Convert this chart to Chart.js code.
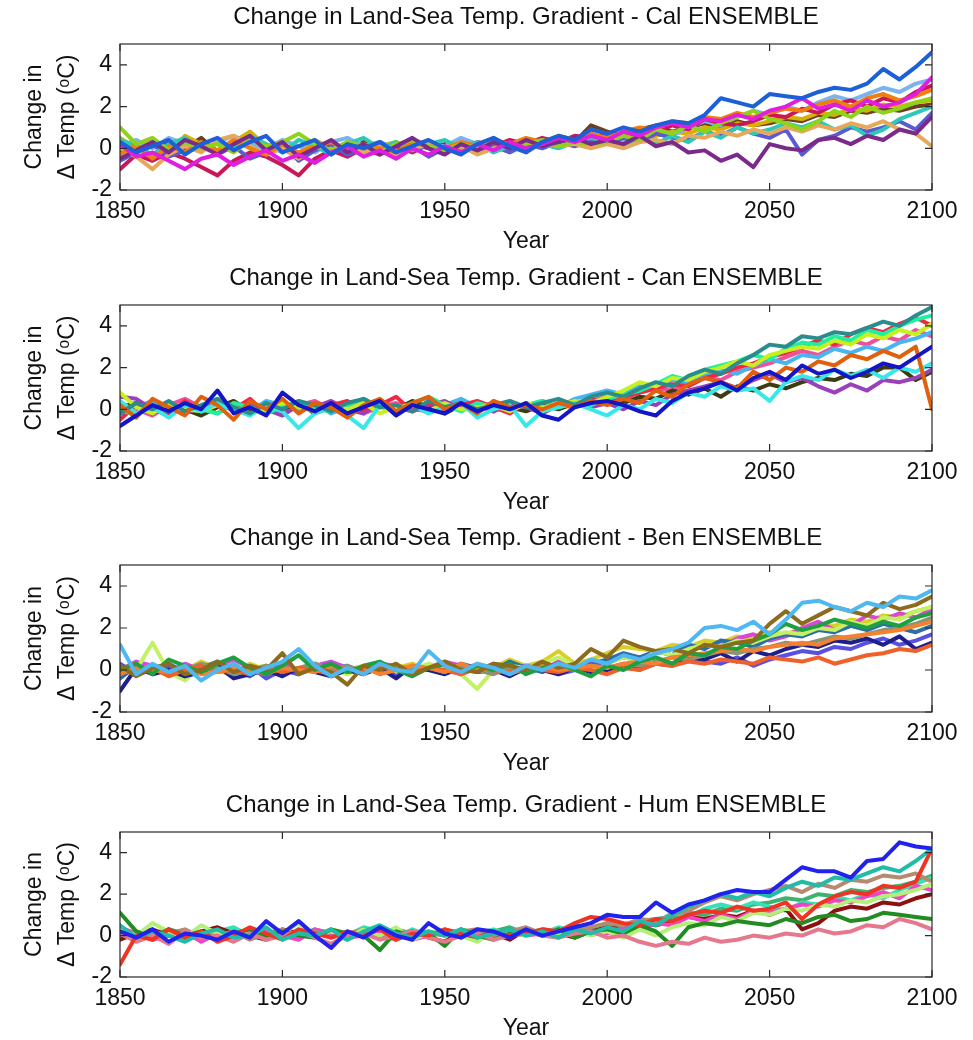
<!DOCTYPE html>
<html><head><meta charset="utf-8">
<script src="https://cdn.jsdelivr.net/npm/chart.js@4/dist/chart.umd.min.js"></script>
<style>
html,body{margin:0;padding:0;background:#fff;width:973px;height:1040px;overflow:hidden}
.p{position:absolute;left:0;width:973px}
</style></head><body>
<div class="p" style="top:0px"><canvas id="c0" width="973" height="261"></canvas></div>
<div class="p" style="top:261px"><canvas id="c1" width="973" height="261"></canvas></div>
<div class="p" style="top:521px"><canvas id="c2" width="973" height="262"></canvas></div>
<div class="p" style="top:788px"><canvas id="c3" width="973" height="260"></canvas></div>
<script>
// ---------- axes / labels ----------
const years = [1850,1855,1860,1865,1870,1875,1880,1885,1890,1895,
  1900,1905,1910,1915,1920,1925,1930,1935,1940,1945,
  1950,1955,1960,1965,1970,1975,1980,1985,1990,1995,
  2000,2005,2010,2015,2020,2025,2030,2035,2040,2045,
  2050,2055,2060,2065,2070,2075,2080,2085,2090,2095,2100];
const xTickValues = [1850,1900,1950,2000,2050,2100];
const yTickValues = [-2,0,2,4];
const panelTitles = [
  'Change in Land-Sea Temp. Gradient - Cal ENSEMBLE',
  'Change in Land-Sea Temp. Gradient - Can ENSEMBLE',
  'Change in Land-Sea Temp. Gradient - Ben ENSEMBLE',
  'Change in Land-Sea Temp. Gradient - Hum ENSEMBLE'];
const xTitle = 'Year';
const yTitle = ['Change in', '\u0394 Temp (\u1d52C)'];

// ---------- Cal ensemble ----------
const calBlue = [0.3,-0.2,0.1,0.4,-0.3,0.2,0.5,-0.1,0.3,0.6, -0.2,0.1,0.4,-0.3,0.2,0.0,0.3,-0.2,0.1,0.4, 0.0,-0.3,0.2,0.5,0.1,-0.2,0.3,0.6,0.4,0.9, 0.7,1.0,0.8,1.1,1.3,1.2,1.6,2.4,2.2,2.0, 2.6,2.5,2.4,2.7,2.9,2.8,3.1,3.8,3.3,3.9, 4.6];
const calMagenta = [0.2,-0.4,-0.2,-0.6,-1.0,-0.5,-0.3,-0.8,-0.4,-0.1, -0.6,-0.3,-0.7,-0.2,0.1,-0.4,-0.1,-0.5,0.0,-0.3, 0.1,-0.2,0.2,-0.1,0.3,0.0,0.2,0.5,0.3,0.6, 0.4,0.8,0.6,1.0,1.2,1.0,1.4,1.3,1.6,1.4, 1.8,2.0,2.4,1.9,2.1,1.8,2.3,2.0,2.2,2.6, 3.4];
const calPurple = [-0.5,-0.1,0.3,-0.2,0.4,0.1,-0.3,0.2,0.6,-0.1, 0.3,-0.4,0.0,0.4,-0.2,0.2,-0.3,0.1,0.5,0.0, -0.3,0.2,-0.1,0.3,0.0,0.4,0.1,0.3,0.5,0.2, 0.4,0.2,0.6,0.1,0.3,-0.2,-0.1,-0.6,-0.3,-0.9, 0.2,0.0,-0.1,0.4,0.5,0.2,0.6,0.4,0.9,0.7, 1.5];
const calLime = [1.0,0.2,0.5,-0.1,0.3,0.0,0.2,-0.2,0.4,0.1, 0.3,0.7,0.2,-0.1,0.3,0.1,-0.2,0.2,0.4,0.1, -0.1,0.2,0.0,0.3,0.1,0.2,0.4,0.1,0.3,0.2, 0.3,0.6,0.4,0.9,0.7,1.1,0.8,1.2,1.5,1.8, 1.4,1.2,0.9,1.3,1.8,1.5,2.0,1.7,1.9,2.2, 2.4];
const calOrange = [-0.3,0.2,-0.5,0.1,-0.2,0.3,-0.1,0.4,0.0,-0.3, 0.2,-0.2,0.1,0.3,-0.1,0.2,0.0,-0.2,0.3,0.1, 0.0,0.3,0.1,0.4,0.2,0.5,0.3,0.6,0.4,0.7, 0.5,0.8,1.0,0.9,1.3,1.2,1.5,1.4,1.7,1.5, 1.7,1.9,1.8,2.1,2.3,2.0,2.4,2.6,2.3,2.5, 2.8];
const calTan = [0.0,-0.4,-1.0,-0.3,0.1,-0.2,0.4,0.6,0.1,-0.3, 0.0,-0.5,0.2,-0.1,0.3,-0.2,0.1,-0.4,0.0,0.2, -0.1,0.1,-0.3,0.0,0.2,-0.1,0.3,0.1,0.2,0.0, 0.2,0.0,0.3,0.4,0.2,0.6,0.5,0.8,0.6,0.9, 0.7,1.0,0.8,1.1,0.9,1.2,1.0,1.3,0.9,0.7, 0.1];
const calTeal = [0.4,0.1,-0.3,0.2,0.5,-0.1,0.3,0.0,0.6,0.2, -0.2,0.4,0.1,-0.3,0.2,0.5,0.0,0.3,-0.1,0.2, 0.4,0.0,0.3,-0.2,0.1,0.4,0.2,0.0,0.3,0.5, 0.3,0.1,0.5,0.2,0.6,0.3,0.8,0.5,1.0,0.7, 0.9,1.2,1.0,1.3,0.9,1.1,0.6,0.9,1.4,1.7, 2.0];
const calSlate = [-0.6,-0.2,0.2,-0.4,-0.1,0.3,-0.3,0.1,-0.5,-0.2, 0.2,-0.6,-0.1,0.2,-0.3,0.0,0.3,-0.2,0.1,-0.4, 0.0,0.2,-0.1,0.1,-0.2,0.2,0.0,0.3,0.1,0.4, 0.2,0.5,0.3,0.7,0.5,0.4,0.8,0.6,1.0,0.7, 0.5,0.9,-0.3,0.4,0.6,1.0,0.8,1.0,1.3,0.9, 1.7];
const calCrimson = [-1.0,-0.3,-0.6,-0.2,-0.5,-0.9,-1.3,-0.6,-0.2,-0.4, -0.8,-1.3,-0.5,-0.1,-0.4,0.0,-0.3,0.1,-0.2,0.2, -0.1,0.0,0.3,0.1,0.4,0.2,0.5,0.3,0.6,0.5, 0.7,0.5,0.9,0.8,1.1,0.9,1.4,1.2,1.1,1.3, 1.6,1.5,1.9,1.7,2.1,2.3,2.0,2.4,2.2,2.7, 3.0];
const calSky = [0.1,0.4,0.0,0.5,0.2,-0.1,0.3,0.6,0.2,0.0, 0.4,0.1,-0.2,0.3,0.5,0.1,0.3,0.0,0.4,0.2, 0.1,0.5,0.2,0.0,0.3,0.1,0.4,0.2,0.5,0.3, 0.6,0.4,0.7,0.9,0.6,1.0,1.3,1.1,1.5,1.8, 1.6,2.0,1.8,2.2,2.5,2.3,2.6,2.9,2.7,3.1, 3.3];
const calGold = [0.5,0.0,0.3,-0.2,0.6,0.2,-0.1,0.3,0.8,0.1, 0.2,-0.3,0.4,0.0,0.2,-0.2,0.1,0.3,-0.1,0.2, 0.0,0.3,-0.2,0.1,0.3,0.0,0.2,0.4,0.1,0.3, 0.2,0.5,0.3,0.6,0.8,0.7,1.0,0.9,1.2,1.1, 1.3,1.5,1.4,1.7,1.6,1.9,1.8,2.1,2.0,2.2, 2.3];
const calBrown = [-0.2,0.1,-0.4,0.3,0.0,0.5,-0.2,0.1,0.4,-0.1, 0.1,-0.3,0.2,0.0,-0.2,0.3,0.1,-0.1,0.2,0.0, 0.2,-0.1,0.1,0.3,0.0,0.2,0.1,0.4,0.3,1.1, 0.8,0.6,0.9,1.1,0.8,1.0,1.2,1.0,1.3,1.1, 1.2,1.4,1.3,1.6,1.5,1.8,1.7,1.9,1.8,2.0, 2.1];

// ---------- Can ensemble ----------
const canNavy = [-0.8,-0.3,0.2,-0.1,0.3,0.0,0.9,-0.2,0.1,-0.3, 0.8,0.2,-0.1,0.3,-0.2,0.1,0.4,-0.3,0.2,0.0, -0.2,0.3,-0.1,0.2,0.0,0.3,-0.3,-0.5,0.1,0.3, 0.4,0.2,-0.1,-0.3,0.4,0.8,1.0,1.3,0.9,1.5, 1.8,1.4,2.1,1.7,1.9,1.5,1.8,2.2,2.0,2.5, 3.0];
const canOrange = [0.2,-0.4,0.5,0.1,-0.3,0.6,0.2,-0.5,0.4,0.0, 0.5,-0.2,0.3,0.1,-0.4,0.2,0.5,-0.1,0.3,0.6, 0.0,0.3,-0.2,0.4,0.1,0.2,0.0,0.3,0.1,0.4, 0.2,0.5,0.3,0.9,0.6,1.2,1.5,1.3,1.0,1.8, 1.4,2.0,1.8,2.3,2.1,2.6,2.4,2.8,2.5,3.0, 0.0];
const canTeal = [-0.2,0.3,0.0,0.4,-0.1,0.2,0.5,0.1,-0.2,0.3, 0.0,0.4,0.2,-0.1,0.3,0.5,0.1,0.2,-0.1,0.4, 0.1,0.3,0.0,0.2,0.4,0.1,0.3,0.5,0.2,0.6, 0.8,0.6,1.0,1.3,1.1,1.6,1.9,1.7,2.2,2.6, 3.1,3.0,3.5,3.4,3.7,3.6,3.9,4.2,4.0,4.5, 4.9];
const canCyan = [0.4,-0.2,0.1,-0.4,0.2,-0.1,0.3,0.0,-0.3,0.2, -0.1,-0.9,-0.2,0.1,-0.3,-0.9,0.2,-0.1,0.2,-0.2, 0.1,0.3,-0.4,0.0,0.2,-0.8,-0.1,0.1,0.3,0.0, -0.3,0.2,0.0,0.5,0.3,0.8,0.6,1.1,0.9,1.0, 0.4,1.3,1.6,1.4,1.9,1.6,1.9,1.5,2.0,1.8, 2.2];
const canLime = [0.8,0.1,-0.2,0.3,0.0,-0.1,0.2,0.1,-0.2,0.0, 0.3,0.1,-0.1,0.2,0.0,0.3,-0.2,0.1,0.2,-0.1, 0.3,0.0,0.1,0.2,-0.1,0.3,0.1,0.2,0.4,0.3, 0.6,0.9,1.3,1.1,1.5,1.4,1.8,2.0,2.3,2.1, 2.6,2.8,3.0,2.9,3.3,3.1,3.6,3.4,3.8,3.6, 4.1];
const canSpring = [0.0,-0.3,0.2,-0.1,0.3,0.0,-0.2,0.3,0.1,-0.2, 0.1,0.4,0.0,-0.1,0.2,0.5,0.1,0.0,0.3,0.6, 0.2,-0.1,0.3,0.1,0.0,0.2,0.4,0.1,0.3,0.2, 0.5,0.7,0.9,1.2,1.6,1.4,1.9,2.1,2.3,2.6, 2.4,2.9,3.2,3.1,3.5,3.3,3.8,3.6,4.0,4.3, 4.5];
const canRed = [-0.5,0.2,0.0,-0.3,0.4,-0.1,0.2,0.0,0.5,-0.2, 0.1,0.3,-0.1,0.2,0.4,0.0,0.2,0.6,-0.1,0.3, 0.0,0.2,0.4,0.1,-0.2,0.3,0.0,0.2,0.1,0.5, 0.3,0.6,0.8,1.0,1.2,1.1,1.5,1.7,2.0,2.2, 2.5,2.7,3.0,3.3,3.1,3.6,3.9,3.7,4.1,4.4, 4.0];
const canPurple = [0.6,0.5,0.0,0.3,-0.2,0.1,0.4,-0.1,0.2,0.0, -0.3,0.2,0.1,0.4,0.0,-0.2,0.3,0.1,-0.1,0.2, 0.4,0.0,0.2,-0.1,0.3,0.1,-0.2,0.2,0.4,0.1, 0.3,0.0,0.4,0.2,0.7,0.9,1.1,1.3,1.0,1.4, 1.7,1.3,1.5,1.1,0.8,1.2,0.9,1.4,1.3,1.5, 1.9];
const canOlive = [0.1,0.3,-0.2,0.2,0.0,-0.3,0.1,0.4,-0.1,0.2, 0.0,0.3,-0.2,0.1,0.3,-0.1,0.2,0.0,0.4,0.1, -0.2,0.2,0.0,0.3,0.1,-0.1,0.2,0.0,0.3,0.2, 0.4,0.3,0.6,0.5,0.9,0.7,1.0,0.6,1.1,0.9, 1.2,1.0,1.3,1.5,1.4,1.7,1.6,2.0,2.0,1.4, 1.8];
const canSky = [-0.3,0.1,0.4,0.0,0.2,-0.2,0.3,0.1,-0.1,0.4, 0.2,0.0,0.3,-0.2,0.1,0.4,0.2,-0.1,0.3,0.0, 0.2,0.5,0.1,0.3,0.0,0.2,0.4,0.1,0.5,0.7, 0.9,0.7,1.1,1.0,1.4,1.3,1.6,1.9,1.7,2.1, 2.4,2.2,2.6,2.5,2.9,2.7,3.0,2.8,3.2,3.4, 3.7];
const canPink = [0.3,0.0,-0.3,0.2,0.5,0.1,-0.2,0.3,0.0,0.2, -0.1,0.2,0.4,0.0,0.2,-0.2,0.1,0.3,0.0,-0.1, 0.2,0.0,0.3,-0.1,0.2,0.1,0.0,0.3,0.2,0.4, 0.6,0.5,0.8,1.0,0.9,1.3,1.5,1.4,1.8,2.0, 2.2,2.5,2.8,2.6,3.0,3.3,3.1,3.5,3.3,3.8, 3.5];

// ---------- Ben ensemble ----------
const benSky = [1.2,-0.2,0.3,-0.1,0.2,-0.5,0.0,0.3,-0.2,0.1, 0.4,1.0,0.2,-0.3,0.1,-0.2,0.3,0.0,-0.1,0.9, 0.2,-0.1,0.3,0.1,-0.2,0.2,0.0,0.3,0.1,0.5, 0.3,0.7,0.5,0.8,1.0,1.3,2.0,2.1,1.9,2.3, 1.7,2.4,3.2,3.3,3.0,2.8,3.2,3.0,3.5,3.4, 3.8];
const benBrown = [0.2,-0.3,0.1,0.3,-0.2,0.0,0.4,-0.1,0.2,0.0, 0.8,-0.2,0.1,-0.1,-0.7,0.2,0.0,0.3,-0.2,0.1, 0.4,0.0,-0.1,0.3,0.2,0.0,0.4,0.1,0.3,1.0, 0.6,1.4,1.1,0.9,1.0,0.8,1.2,1.1,1.3,1.4, 2.2,2.8,2.2,2.6,3.0,2.8,2.6,3.2,2.9,3.1, 3.5];
const benGreen = [0.0,0.3,-0.2,0.5,0.2,-0.1,0.3,0.6,0.1,-0.2, 0.2,0.7,0.0,0.3,-0.1,0.2,0.4,0.0,-0.3,0.1, 0.3,-0.1,0.2,0.0,0.3,-0.2,0.1,0.3,0.0,-0.3, 0.2,0.0,0.4,0.6,0.3,0.8,0.7,1.1,1.0,1.4, 1.7,2.2,1.9,2.1,2.4,2.2,2.0,2.3,2.1,2.5, 2.7];
const benOrange = [-0.2,0.1,0.0,-0.1,0.2,-0.2,-0.1,0.1,0.0,-0.2, 0.1,0.0,-0.1,0.2,0.0,0.1,-0.2,0.0,0.2,0.1, -0.1,0.3,0.0,0.1,-0.2,0.1,0.2,0.0,0.1,0.2, 0.1,0.3,0.4,0.3,0.6,0.7,0.8,0.9,1.0,0.9, 1.1,1.2,1.3,1.2,1.5,1.6,1.7,1.8,1.9,2.1, 2.3];
const benRust = [0.0,-0.2,0.1,-0.3,0.0,0.2,-0.1,0.0,-0.2,0.1, -0.1,0.1,0.0,-0.2,0.1,-0.1,0.2,0.0,-0.1,0.1, 0.0,-0.2,0.1,0.0,-0.1,0.2,0.0,-0.1,0.1,0.0, -0.2,0.1,0.0,0.3,0.2,0.4,0.3,0.5,0.4,0.3, 0.6,0.5,0.4,0.6,0.3,0.5,0.7,0.8,1.0,0.9, 1.2];
const benGrey = [0.1,0.0,0.2,-0.1,0.0,0.3,0.1,-0.2,0.0,0.2, -0.1,0.1,0.3,0.0,0.2,-0.1,0.1,0.2,0.0,0.1, -0.1,0.2,0.0,-0.2,0.1,0.0,0.2,0.1,0.0,0.2, 0.1,0.3,0.2,0.4,0.6,0.5,0.7,0.9,0.8,1.0, 1.1,1.3,1.2,1.4,1.6,1.5,1.7,1.9,2.0,2.2, 2.5];
const benNavy = [-1.0,0.1,-0.2,0.0,-0.3,-0.1,0.2,-0.4,-0.2,0.0, -0.3,0.1,-0.1,-0.3,0.0,-0.2,0.1,-0.4,0.2,0.0, -0.2,0.1,-0.1,0.0,-0.3,0.1,0.0,-0.2,0.1,-0.1, 0.0,0.2,0.1,0.4,0.3,0.6,0.5,0.8,0.4,0.9, 0.7,1.0,1.2,1.1,1.4,1.3,1.5,1.2,1.6,1.0, 1.3];
const benViolet = [0.3,-0.2,0.0,0.2,-0.3,0.1,0.3,-0.1,0.2,-0.4, 0.0,-0.2,0.1,0.3,-0.1,0.0,0.2,-0.3,0.1,0.0, 0.3,-0.2,0.1,0.2,0.0,-0.1,0.2,-0.2,0.0,0.3, 0.1,0.2,0.0,0.3,0.2,0.5,0.4,0.3,0.6,0.2, 0.5,0.7,0.9,0.8,1.1,1.0,1.3,1.5,1.2,1.4, 1.7];
const benLight = [0.2,0.0,1.3,-0.1,-0.5,0.2,0.0,-0.3,0.1,0.2, -0.1,0.1,0.3,0.0,-0.2,0.1,0.2,-0.1,0.0,0.3, 0.1,-0.2,-0.9,0.0,0.2,0.1,0.3,0.6,0.2,0.0, 0.3,0.6,0.4,0.9,0.7,1.0,1.2,1.1,1.4,1.3, 1.6,1.8,1.7,2.0,1.9,2.3,2.1,2.5,2.4,2.8, 3.0];
const benSteel = [-0.4,0.2,0.0,0.3,-0.1,0.1,0.4,0.0,-0.3,0.2, 0.1,-0.2,0.3,0.0,0.2,-0.1,0.3,0.1,-0.2,0.2, 0.0,0.3,0.1,0.0,0.4,0.1,-0.1,0.2,0.0,0.3, 0.5,0.8,0.6,0.9,0.7,1.2,1.0,1.4,1.3,1.1, 1.5,1.7,1.6,1.9,1.8,2.1,1.9,2.2,2.0,1.8, 2.1];
const benMagenta = [0.0,0.4,0.2,-0.1,0.3,0.0,0.2,0.5,0.1,-0.2, 0.3,0.0,0.2,0.4,0.1,0.0,0.3,0.2,-0.1,0.1, 0.4,0.2,0.0,0.3,0.1,0.2,0.0,0.4,0.2,0.1, 0.4,0.6,0.5,0.8,1.0,0.9,1.2,1.1,1.5,1.7, 1.4,1.6,2.0,2.3,1.9,2.1,2.6,2.4,2.7,2.5, 2.9];
const benYellow = [0.1,0.3,-0.1,0.2,0.0,0.4,0.1,-0.2,0.3,0.0, 0.2,-0.1,0.1,0.3,0.0,0.2,-0.2,0.1,0.3,0.0, 0.2,0.0,0.3,0.1,0.5,0.2,0.4,0.9,0.3,0.5, 0.8,1.1,1.0,0.9,1.2,1.1,1.4,1.3,1.6,1.5, 1.8,1.7,2.0,2.2,2.1,2.4,2.3,2.6,2.5,2.8, 3.0];

// ---------- Hum ensemble ----------
const humBlue = [0.2,-0.1,0.3,-0.3,0.1,0.0,-0.2,0.2,-0.1,0.7, 0.1,0.7,0.0,-0.6,0.2,-0.1,0.4,0.0,-0.2,0.6, 0.1,-0.1,0.3,0.2,-0.1,0.3,0.0,0.2,0.4,0.6, 1.0,0.9,0.9,1.6,1.1,1.5,1.7,2.0,2.2,2.1, 2.1,2.7,3.3,3.1,3.1,2.8,3.6,3.7,4.5,4.3, 4.2];
const humTeal = [0.5,-0.1,0.2,0.0,-0.3,0.1,0.3,-0.1,0.0,0.4, -0.2,0.1,0.0,0.3,-0.2,0.2,0.5,0.1,-0.1,0.2, 0.0,0.3,-0.1,0.1,0.3,0.0,0.2,-0.1,0.3,0.1, 0.4,0.2,0.7,0.5,1.0,1.4,1.7,2.0,1.8,2.1, 1.9,2.3,2.6,2.4,2.8,2.7,3.0,3.3,3.1,3.6, 4.2];
const humRed = [-1.4,0.0,-0.2,0.3,-0.1,0.2,-0.3,0.0,0.4,0.1, -0.2,0.3,0.1,-0.1,0.2,0.0,0.3,-0.2,0.1,0.0, 0.3,0.1,-0.1,0.2,0.0,0.1,0.3,0.2,0.6,0.9, 0.8,0.6,0.5,0.8,0.7,1.0,1.2,1.1,1.4,1.2, 1.3,1.6,0.8,1.5,1.9,2.1,2.0,2.4,2.3,2.6, 4.2];
const humPink = [0.1,-0.3,0.0,-0.4,0.2,-0.1,0.0,-0.3,0.1,-0.2, 0.0,0.2,-0.1,-0.4,0.0,0.1,-0.2,0.0,0.2,-0.1, -0.3,0.0,0.1,-0.2,0.0,0.2,0.0,-0.1,0.1,0.2, -0.1,0.0,-0.3,-0.5,-0.3,-0.4,-0.1,-0.3,-0.2,0.0, -0.1,0.1,0.0,0.3,0.1,0.2,0.5,0.4,0.8,0.6, 0.3];
const humGreen = [1.1,0.2,-0.1,0.3,0.0,0.2,-0.2,0.1,0.3,-0.1, 0.2,0.0,-0.1,0.3,0.1,0.0,-0.7,0.2,0.0,0.1, -0.5,0.3,0.0,-0.2,0.1,0.2,0.0,0.3,-0.1,0.2, 0.3,0.1,0.5,0.2,-0.5,0.4,0.6,0.5,0.7,0.6, 0.5,0.8,0.6,0.9,1.0,0.7,0.8,1.1,1.0,0.9, 0.8];
const humLight = [0.3,0.0,0.6,0.2,-0.1,0.5,0.1,0.0,0.3,-0.2, 0.1,0.6,0.0,0.2,-0.1,0.3,0.0,0.4,-0.2,0.1, 0.3,0.0,-0.3,0.2,0.1,0.0,0.3,0.1,0.2,0.0, 0.2,-0.1,0.3,0.0,0.4,0.6,0.5,0.9,0.7,1.1, 1.0,1.3,1.2,1.5,1.4,1.7,1.6,1.9,2.0,2.2, 2.5];
const humTan = [0.0,0.2,-0.2,0.1,0.3,-0.1,0.0,0.2,-0.2,0.1, 0.3,0.0,0.2,-0.1,0.1,0.3,0.0,-0.2,0.2,0.1, 0.0,0.2,0.3,0.0,0.2,0.4,0.1,0.3,0.2,0.4, 0.6,0.5,0.8,0.7,1.0,1.2,1.6,1.9,1.7,2.0, 2.2,2.4,2.1,2.5,2.3,2.7,2.6,2.9,2.8,3.0, 2.6];
const humMagenta = [0.4,0.1,-0.2,0.0,0.2,-0.3,0.1,0.0,-0.1,0.2, 0.0,-0.2,0.3,0.1,-0.1,0.0,0.2,0.1,-0.2,0.0, 0.3,0.1,0.0,-0.1,0.2,0.0,0.1,0.3,0.0,0.2, 0.1,0.4,0.3,0.6,0.5,0.9,0.7,1.0,0.8,1.2, 1.1,1.3,1.5,1.4,1.7,1.6,1.9,2.1,1.8,2.4, 2.2];
const humDarkRed = [-0.2,0.1,0.3,0.0,-0.1,0.2,0.4,0.1,0.0,-0.2, 0.3,0.1,0.0,0.2,-0.1,0.3,0.1,0.0,0.2,-0.1, -0.3,0.2,0.0,0.1,-0.2,0.3,0.0,0.1,-0.1,0.2, 0.4,0.3,0.6,0.5,0.7,0.9,0.8,1.0,0.9,1.2, 1.0,1.3,0.3,0.6,1.2,1.4,1.3,1.6,1.5,1.8, 2.0];
const humAqua = [0.2,-0.1,0.1,0.3,0.0,-0.2,0.2,0.4,0.0,0.1, -0.1,0.3,0.1,0.2,0.0,0.4,0.2,-0.1,0.3,0.0, 0.2,-0.1,0.1,0.3,0.0,0.2,0.1,0.4,0.2,0.3, 0.5,0.3,0.8,0.6,1.1,0.9,1.3,1.5,1.3,1.6, 1.4,1.2,1.6,1.5,1.9,1.7,2.0,1.8,2.2,2.5, 2.8];
const humSea = [-0.1,0.2,0.0,0.3,0.1,-0.2,0.3,0.0,0.2,-0.1, 0.2,0.0,0.3,0.1,-0.2,0.2,0.0,0.3,0.1,0.2, 0.0,0.3,0.1,0.2,0.4,0.1,0.3,0.2,0.5,0.3, 0.6,0.4,0.7,0.8,0.9,1.1,1.0,1.3,1.2,1.5, 1.6,1.8,1.7,2.0,1.9,2.2,2.1,2.3,2.4,2.6, 2.9];

// ---------- colours ----------
const calColors = ['#1c5fd9','#e01ee0','#7a2a8a','#8fd21a','#f07d0c','#e8a85a','#2ec8b8','#5a5ad2','#c8185a','#7ab4f0','#d8b000','#6a4020'];
const canColors = ['#1414c8','#e0600c','#2a8c8c','#38e8e8','#c8f020','#1ef0a0','#f02848','#9a40b8','#3c3c10','#48b4f0','#f0509a'];
const benColors = ['#50b8f0','#8c6c1c','#1fa040','#f48030','#f0602a','#8a9474','#1e1e8c','#5a50e0','#c4f064','#2c6ea8','#d848d8','#d8d028'];
const humColors = ['#2222ee','#20bca8','#f03424','#e6788e','#228c22','#b4f078','#b48a70','#f044c4','#8c1010','#38e0b8','#3cb371'];

const calSeries = [calBlue,calMagenta,calPurple,calLime,calOrange,calTan,calTeal,calSlate,calCrimson,calSky,calGold,calBrown];
const canSeries = [canNavy,canOrange,canTeal,canCyan,canLime,canSpring,canRed,canPurple,canOlive,canSky,canPink];
const benSeries = [benSky,benBrown,benGreen,benOrange,benRust,benGrey,benNavy,benViolet,benLight,benSteel,benMagenta,benYellow];
const humSeries = [humBlue,humTeal,humRed,humPink,humGreen,humLight,humTan,humMagenta,humDarkRed,humAqua,humSea];

const FONT = "'Liberation Sans', Arial, Helvetica, sans-serif";
Chart.defaults.font.family = FONT;
Chart.defaults.color = '#111';

const framePlugin = {
  id: 'frame',
  afterDatasetsDraw(chart) {
    const {ctx, chartArea: a, scales: {x, y}} = chart;
    ctx.save();
    ctx.strokeStyle = '#2a2a2a';
    ctx.lineWidth = 1.2;
    ctx.strokeRect(a.left, a.top, a.right - a.left, a.bottom - a.top);
    const tl = 7;
    ctx.beginPath();
    xTickValues.forEach(v => {
      const px = x.getPixelForValue(v);
      ctx.moveTo(px, a.bottom); ctx.lineTo(px, a.bottom - tl);
      ctx.moveTo(px, a.top); ctx.lineTo(px, a.top + tl);
    });
    yTickValues.forEach(v => {
      const py = y.getPixelForValue(v);
      ctx.moveTo(a.left, py); ctx.lineTo(a.left + tl, py);
      ctx.moveTo(a.right, py); ctx.lineTo(a.right - tl, py);
    });
    ctx.stroke();
    ctx.restore();
  },
  afterDraw(chart) {
    const {ctx, chartArea: a} = chart;
    const t = chart.options.plugins.frame.title;
    ctx.save();
    ctx.fillStyle = '#111';
    ctx.font = '24px ' + FONT;
    ctx.textAlign = 'center';
    ctx.textBaseline = 'middle';
    ctx.fillText(t, (a.left + a.right) / 2, a.top - 27);
    ctx.restore();
  }
};

function makeChart(id, title, series, colors) {
  const datasets = series.map((arr, k) => ({
    data: years.map((yr, i) => ({x: yr, y: arr[i]})),
    borderColor: colors[k % colors.length],
    borderWidth: 4,
    borderJoinStyle: 'round',
    borderCapStyle: 'round',
    pointRadius: 0,
    tension: 0,
    fill: false
  }));
  new Chart(document.getElementById(id), {
    type: 'line',
    data: {datasets},
    options: {
      responsive: false,
      animation: false,
      devicePixelRatio: 1,
      layout: {padding: {top: 44, right: 41, left: 0, bottom: 0}},
      plugins: {legend: {display: false}, tooltip: {enabled: false}, title: {display: false}, frame: {title}},
      scales: {
        x: {
          type: 'linear', min: 1850, max: 2100,
          afterBuildTicks: s => { s.ticks = xTickValues.map(v => ({value: v})); },
          afterFit: s => { s.height = 71; },
          grid: {display: false, drawTicks: false},
          border: {display: false},
          ticks: {font: {size: 23}, color: '#111', padding: 8, maxRotation: 0, autoSkip: false,
                  callback: v => String(v)},
          title: {display: true, text: xTitle, font: {size: 23}, color: '#111', padding: {top: 0, bottom: 6}}
        },
        y: {
          min: -2, max: 5,
          afterBuildTicks: s => { s.ticks = yTickValues.map(v => ({value: v})); },
          afterFit: s => { s.width = 120; },
          grid: {display: false, drawTicks: false},
          border: {display: false},
          ticks: {font: {size: 23}, color: '#111', padding: 8, callback: v => String(v)},
          title: {display: true, text: yTitle, font: {size: 23, lineHeight: 1.43}, color: '#111', padding: {top: 18, bottom: 0}}
        }
      }
    },
    plugins: [framePlugin]
  });
}

makeChart('c0', panelTitles[0], calSeries, calColors);
makeChart('c1', panelTitles[1], canSeries, canColors);
makeChart('c2', panelTitles[2], benSeries, benColors);
makeChart('c3', panelTitles[3], humSeries, humColors);
</script>
</body></html>
